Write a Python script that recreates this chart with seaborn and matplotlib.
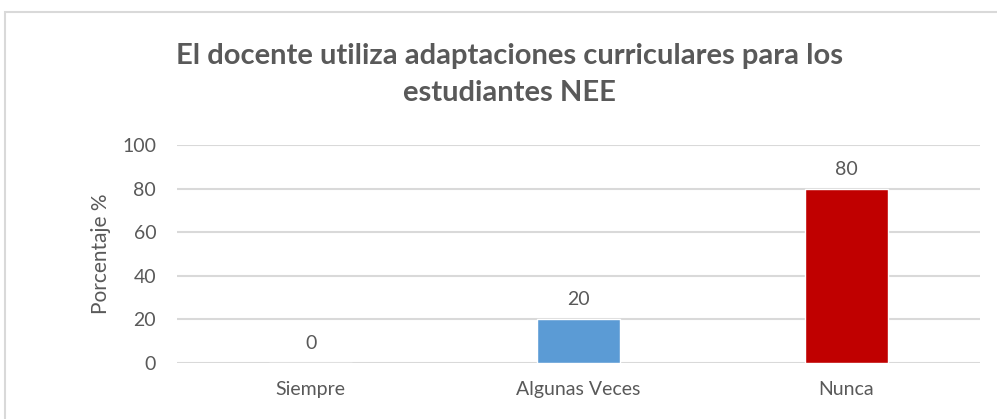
import seaborn as sns
import matplotlib.pyplot as plt
import pandas as pd
from matplotlib.patches import Rectangle

categorias = ['Siempre', 'Algunas Veces', 'Nunca']
porcentajes = [0, 20, 80]
colores = ['#5B9BD5', '#5B9BD5', '#C00000']

df = pd.DataFrame({'categoria': categorias, 'porcentaje': porcentajes})

sns.set_style('white')
plt.rcParams['font.family'] = ['Lato', 'DejaVu Sans']
gris = '#595959'

fig = plt.figure(figsize=(9.97, 4.19), dpi=100)
ax = fig.add_axes([0.1775, 0.134, 0.8055, 0.52])

sns.barplot(data=df, x='categoria', y='porcentaje', hue='categoria',
            palette=dict(zip(categorias, colores)), width=0.31,
            saturation=1, legend=False, ax=ax, zorder=3)

ax.set_ylim(0, 100)
ax.set_yticks(range(0, 101, 20))
ax.yaxis.grid(True, color='#D9D9D9', linewidth=1.5, zorder=0)
ax.set_axisbelow(True)
for s in ax.spines.values():
    s.set_visible(False)
ax.tick_params(axis='both', length=0, labelsize=14, labelcolor=gris)
ax.tick_params(axis='x', pad=13)
ax.tick_params(axis='y', pad=15)
ax.set_xlabel('')
ax.set_ylabel('Porcentaje %', fontsize=15, color=gris, labelpad=8)

for i, v in enumerate(porcentajes):
    ax.text(i, v + 5, str(v), ha='center', va='bottom', fontsize=14, color=gris)

fig.text(0.511, 0.822, 'El docente utiliza adaptaciones curriculares para los\nestudiantes NEE',
         ha='center', va='center', fontsize=21, fontweight='bold', color=gris,
         linespacing=1.5)

fig.patches.append(Rectangle((5 / 997, -0.05), 1.05, 1 - 12 / 419 + 0.05,
                             transform=fig.transFigure, fill=False,
                             edgecolor='#D9D9D9', linewidth=1.5))

fig.savefig('out.png', dpi=100)
